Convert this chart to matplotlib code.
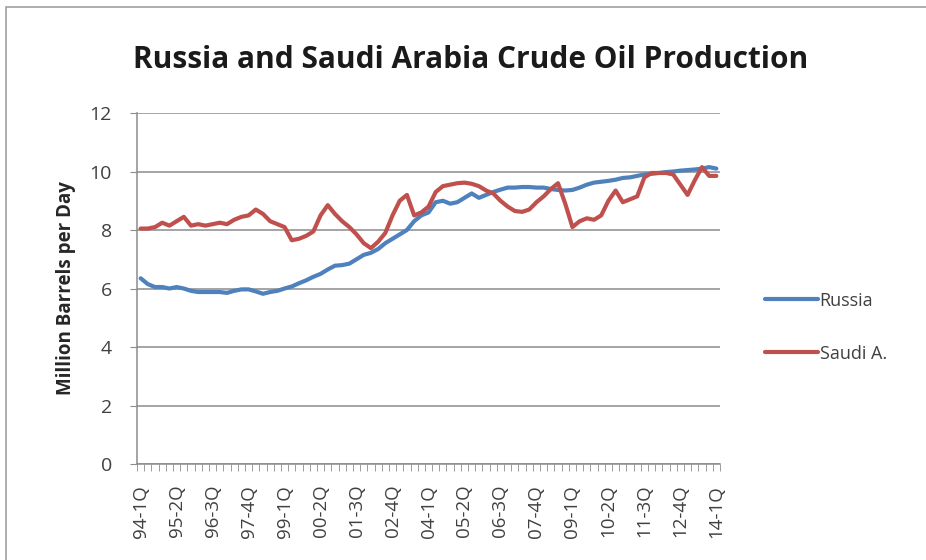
import numpy as np
import matplotlib.pyplot as plt
from matplotlib.patches import Rectangle

# quarterly categories, 94-1Q .. 14-1Q
quarters = [f"{y % 100:02d}-{q}Q" for y in range(1994, 2015) for q in range(1, 5)][:81]

# million barrels per day
russia = [6.35, 6.15, 6.05, 6.05, 6.0, 6.05, 6.0, 5.92, 5.88, 5.88,
          5.88, 5.88, 5.85, 5.92, 5.97, 5.97, 5.9, 5.82, 5.88, 5.92,
          6.0, 6.07, 6.18, 6.28, 6.4, 6.5, 6.65, 6.78, 6.8, 6.85,
          7.0, 7.15, 7.22, 7.35, 7.55, 7.7, 7.85, 8.0, 8.3, 8.5,
          8.6, 8.95, 9.0, 8.9, 8.95, 9.1, 9.25, 9.1, 9.2, 9.3,
          9.38, 9.45, 9.45, 9.47, 9.47, 9.45, 9.45, 9.4, 9.37, 9.35,
          9.37, 9.45, 9.55, 9.62, 9.65, 9.68, 9.72, 9.78, 9.8, 9.85,
          9.9, 9.92, 9.95, 9.98, 10.0, 10.03, 10.05, 10.07, 10.1, 10.15,
          10.1]
saudi = [8.05, 8.05, 8.1, 8.25, 8.15, 8.3, 8.45, 8.15, 8.2, 8.15,
         8.2, 8.25, 8.2, 8.35, 8.45, 8.5, 8.7, 8.55, 8.3, 8.2,
         8.1, 7.65, 7.7, 7.8, 7.95, 8.5, 8.85, 8.55, 8.3, 8.1,
         7.85, 7.55, 7.38, 7.6, 7.9, 8.5, 9.0, 9.2, 8.5, 8.6,
         8.8, 9.3, 9.5, 9.55, 9.6, 9.62, 9.58, 9.5, 9.35, 9.25,
         9.0, 8.8, 8.65, 8.62, 8.7, 8.95, 9.15, 9.4, 9.6, 8.9,
         8.1, 8.3, 8.4, 8.35, 8.5, 9.0, 9.35, 8.95, 9.05, 9.15,
         9.8, 9.95, 9.95, 9.95, 9.9, 9.55, 9.2, 9.7, 10.15, 9.85,
         9.85]

x = np.arange(len(quarters))
label_idx = x[::5]

plt.rcParams['font.family'] = ['Open Sans', 'DejaVu Sans']

fig = plt.figure(figsize=(9.26, 5.6), dpi=100)
fig.patches.append(Rectangle((0.006, -0.01), 1.2, 0.998, transform=fig.transFigure,
                             fill=False, edgecolor='#a0a0a0', linewidth=1.2))

ax = fig.add_axes([0.148, 0.1714, 0.6295, 0.6268])
ax.plot(x, russia, color='#4F81BD', linewidth=3, label='Russia', solid_capstyle='round')
ax.plot(x, saudi, color='#C0504D', linewidth=3, label='Saudi A.', solid_capstyle='round')

ax.set_xlim(-0.5, len(quarters) - 0.5)
ax.set_ylim(0, 12)
ax.set_yticks(range(0, 13, 2))
ax.yaxis.grid(True, color='#8c8c8c', linewidth=1.1)
ax.set_axisbelow(True)

ax.set_xticks(label_idx)
ax.set_xticklabels([quarters[i] for i in label_idx], rotation=90)
ax.set_xticks(np.arange(-0.5, len(quarters), 1), minor=True)
ax.tick_params(axis='x', which='major', length=0, pad=15, labelsize=13.5, labelcolor='#404040')
ax.tick_params(axis='x', which='minor', length=5, color='#8c8c8c', direction='out')
ax.tick_params(axis='y', length=5, color='#8c8c8c', labelsize=14, labelcolor='#404040', pad=13)

for side in ['top', 'right']:
    ax.spines[side].set_visible(False)
for side in ['left', 'bottom']:
    ax.spines[side].set_color('#8c8c8c')
    ax.spines[side].set_linewidth(1.1)

ax.set_ylabel('Million Barrels per Day', fontsize=13.5, fontweight='bold', color='#262626', labelpad=10)
fig.text(0.508, 0.892, 'Russia and Saudi Arabia Crude Oil Production', ha='center', va='center',
         fontsize=21.5, fontweight='bold', color='#1a1a1a')

ax.legend(loc='center left', bbox_to_anchor=(1.05, 0.39), frameon=False, fontsize=13,
          handlelength=2.9, handletextpad=0.1, labelspacing=1.95, labelcolor='#404040')

fig.savefig('out.png', dpi=100)
